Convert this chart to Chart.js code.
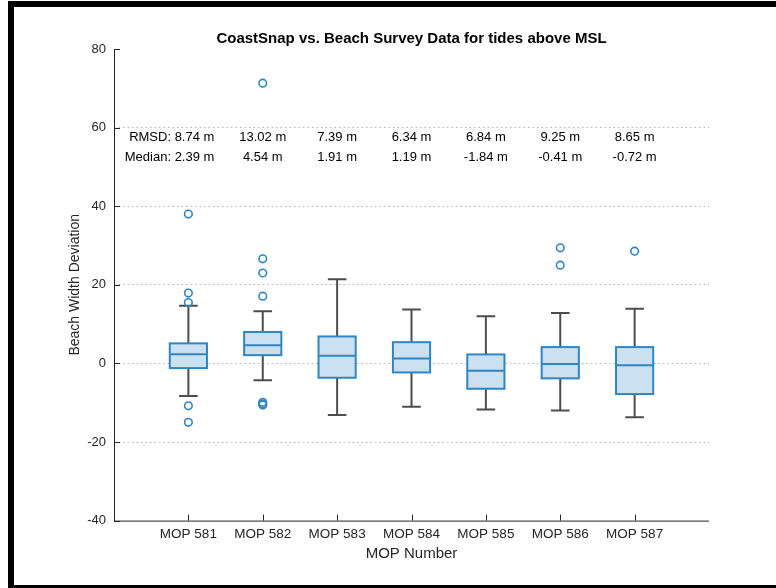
<!DOCTYPE html>
<html>
<head>
<meta charset="utf-8">
<script src="https://cdn.jsdelivr.net/npm/chart.js@4"></script>
<style>
  html, body { margin: 0; padding: 0; background: #fff; }
  canvas { display: block; }
</style>
</head>
<body>
<canvas id="boxChart" width="776" height="588"></canvas>
<script>
const categories = ['MOP 581', 'MOP 582', 'MOP 583', 'MOP 584', 'MOP 585', 'MOP 586', 'MOP 587'];
const whiskerLow = [-8.3, -4.3, -13.1, -11.0, -11.7, -12.0, -13.7];
const quartile1 = [-1.2, 2.1, -3.65, -2.3, -6.45, -3.8, -7.8];
const medians = [2.36, 4.65, 1.94, 1.26, -1.87, -0.18, -0.5];
const quartile3 = [5.1, 8.0, 6.85, 5.4, 2.28, 4.15, 4.15];
const whiskerHigh = [14.7, 13.3, 21.4, 13.7, 12.0, 12.8, 13.9];
const outliers = [
  [38.0, 17.9, 15.5, -10.8, -15.0],
  [71.3, 26.6, 23.0, 17.1, -9.9, -10.3, -10.6],
  [], [], [],
  [29.4, 25.0],
  [28.55]
];
const rmsdLabels = ['8.74 m', '13.02 m', '7.39 m', '6.34 m', '6.84 m', '9.25 m', '8.65 m'];
const medianLabels = ['2.39 m', '4.54 m', '1.91 m', '1.19 m', '-1.84 m', '-0.41 m', '-0.72 m'];
const yTicks = [-40, -20, 0, 20, 40, 60, 80];

const BLUE = '#2f86c3';
const AXIS = '#262626';
const FONT = '"Liberation Sans", Arial, Helvetica, sans-serif';

// outliers as scatter points at their category position
const outlierPoints = outliers.flatMap((list, i) => list.map(v => ({ x: i + 1, y: v })));

// boxes + whiskers drawn under the outlier dataset
const boxPlot = {
  id: 'boxPlot',
  beforeDatasetsDraw(chart) {
    const { ctx, scales: { x, y } } = chart;
    ctx.save();
    categories.forEach((c, i) => {
      const pos = i + 1;
      const cx = x.getPixelForValue(pos);
      const left = x.getPixelForValue(pos - 0.25);
      const right = x.getPixelForValue(pos + 0.25);
      const capL = x.getPixelForValue(pos - 0.125);
      const capR = x.getPixelForValue(pos + 0.125);
      const yHi = y.getPixelForValue(whiskerHigh[i]);
      const yLo = y.getPixelForValue(whiskerLow[i]);
      const yQ1 = y.getPixelForValue(quartile1[i]);
      const yQ3 = y.getPixelForValue(quartile3[i]);
      const yMed = y.getPixelForValue(medians[i]);

      ctx.strokeStyle = '#4d4d4d';
      ctx.lineWidth = 2;
      ctx.beginPath();
      ctx.moveTo(cx, yHi); ctx.lineTo(cx, yQ3);
      ctx.moveTo(cx, yQ1); ctx.lineTo(cx, yLo);
      ctx.moveTo(capL, yHi); ctx.lineTo(capR, yHi);
      ctx.moveTo(capL, yLo); ctx.lineTo(capR, yLo);
      ctx.stroke();

      ctx.fillStyle = '#cbe1f1';
      ctx.fillRect(left, yQ3, right - left, yQ1 - yQ3);
      ctx.strokeStyle = BLUE;
      ctx.lineWidth = 2;
      ctx.strokeRect(left, yQ3, right - left, yQ1 - yQ3);
      ctx.beginPath();
      ctx.moveTo(left, yMed); ctx.lineTo(right, yMed);
      ctx.stroke();
    });
    ctx.restore();
  }
};

// axes with inward ticks, title, text annotations, black frame
const decorations = {
  id: 'decorations',
  beforeDraw(chart) {
    const { ctx, width, height } = chart;
    ctx.save();
    ctx.fillStyle = '#fff';
    ctx.fillRect(0, 0, width, height);
    ctx.restore();
  },
  afterDraw(chart) {
    const { ctx, chartArea: a, scales: { x, y }, width, height } = chart;
    ctx.save();
    ctx.strokeStyle = AXIS;
    ctx.lineWidth = 1;
    ctx.beginPath();
    ctx.moveTo(a.left + 0.5, a.top); ctx.lineTo(a.left + 0.5, a.bottom + 0.5);
    ctx.lineTo(a.right, a.bottom + 0.5);
    yTicks.forEach(v => {
      const py = Math.round(y.getPixelForValue(v)) + 0.5;
      ctx.moveTo(a.left, py); ctx.lineTo(a.left + 6, py);
    });
    categories.forEach((c, i) => {
      const px = Math.round(x.getPixelForValue(i + 1)) + 0.5;
      ctx.moveTo(px, a.bottom); ctx.lineTo(px, a.bottom - 6);
    });
    ctx.stroke();

    ctx.fillStyle = '#000';
    ctx.font = 'bold 15px ' + FONT;
    ctx.textAlign = 'center';
    ctx.textBaseline = 'middle';
    ctx.fillText('CoastSnap vs. Beach Survey Data for tides above MSL', (a.left + a.right) / 2, 39);

    ctx.font = '13px ' + FONT;
    const rowRmsd = y.getPixelForValue(57.4);
    const rowMed = y.getPixelForValue(52.5);
    categories.forEach((c, i) => {
      const cx = x.getPixelForValue(i + 1);
      if (i === 0) {
        ctx.textAlign = 'right';
        ctx.fillText('RMSD: ' + rmsdLabels[i], cx + 26, rowRmsd);
        ctx.fillText('Median: ' + medianLabels[i], cx + 26, rowMed);
      } else {
        ctx.textAlign = 'center';
        ctx.fillText(rmsdLabels[i], cx, rowRmsd);
        ctx.fillText(medianLabels[i], cx, rowMed);
      }
    });

    ctx.fillStyle = '#000';
    ctx.fillRect(8, 1, 6, height - 1);
    ctx.fillRect(8, 1, width - 8, 6);
    ctx.fillRect(8, 585, width - 8, 3);
    ctx.restore();
  }
};

new Chart(document.getElementById('boxChart'), {
  type: 'scatter',
  data: {
    datasets: [{
      label: 'Outliers',
      data: outlierPoints,
      pointStyle: 'circle',
      pointRadius: 3.8,
      pointBorderWidth: 1.6,
      pointBorderColor: BLUE,
      pointBackgroundColor: 'rgba(0,0,0,0)',
      pointHoverRadius: 3.8
    }]
  },
  options: {
    responsive: false,
    devicePixelRatio: 1,
    animation: false,
    layout: { padding: { left: 63, right: 67, top: 49, bottom: 21.6 } },
    plugins: { legend: { display: false }, tooltip: { enabled: false } },
    scales: {
      x: {
        type: 'linear',
        min: 0,
        max: 8,
        afterBuildTicks: s => { s.ticks = categories.map((c, i) => ({ value: i + 1 })); },
        afterFit: s => { s.height = 45.8; },
        ticks: {
          callback: v => categories[v - 1] || '',
          color: AXIS,
          font: { family: FONT, size: 13.5 },
          padding: 6,
          maxRotation: 0,
          autoSkip: false
        },
        grid: { display: false, drawTicks: false },
        border: { display: false },
        title: { display: true, text: 'MOP Number', color: AXIS, font: { family: FONT, size: 15 } }
      },
      y: {
        min: -40,
        max: 80,
        afterBuildTicks: s => { s.ticks = yTicks.map(v => ({ value: v })); },
        afterFit: s => { s.width = 51; },
        ticks: { color: AXIS, font: { family: FONT, size: 13 }, padding: 8 },
        grid: {
          drawTicks: false,
          lineWidth: 1,
          color: ctx => (ctx.tick && (ctx.tick.value === 80 || ctx.tick.value === -40)) ? 'rgba(0,0,0,0)' : '#b4b4b4'
        },
        border: { display: false, dash: [1.5, 3] },
        title: { display: true, text: 'Beach Width Deviation', color: AXIS, font: { family: FONT, size: 14 } }
      }
    }
  },
  plugins: [boxPlot, decorations]
});
</script>
</body>
</html>
